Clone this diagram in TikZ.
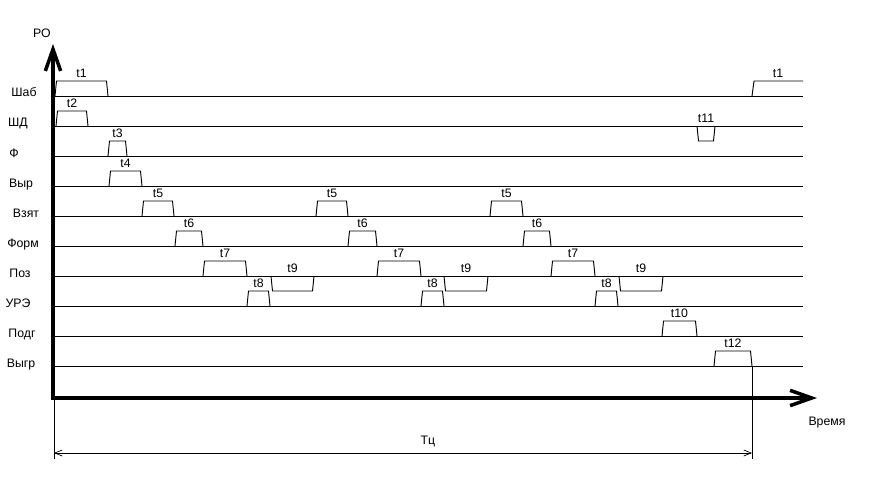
\documentclass[tikz,border=0pt]{standalone}
\usepackage{fontspec}
\setmainfont{Liberation Sans}
\usepackage{xcolor}
\usepackage{tikz}
\usetikzlibrary{
  arrows.meta,
  positioning,
  calc
}
\tikzset{
  sigline/.style={line width=0.8pt, black},
  pulse/.style={line width=0.8pt, black, line join=miter},
  axisline/.style={
    line width=3pt, line join=miter,
    {Straight Barb[length=6.5mm, width=4.6mm]}-{Straight Barb[length=6.5mm, width=4.6mm]}
  },
  extline/.style={line width=0.6pt, black},
  dimline/.style={line width=0.6pt, {Straight Barb[length=2.2mm, width=1.8mm]}-{Straight Barb[length=2.2mm, width=1.8mm]}},
  rowlabel/.style={font=\fontsize{10.5}{12}\selectfont, anchor=base, inner sep=0pt},
  tlabel/.style={font=\fontsize{10.5}{12}\selectfont, anchor=base, inner sep=0pt},
  axlabel/.style={font=\fontsize{10.5}{12}\selectfont, inner sep=0pt}
}

\begin{document}
\begin{tikzpicture}[x=0.03cm, y=-0.03cm]
  \useasboundingbox (0,0) rectangle (872,482);
  % axes
  \coordinate (o) at (53,398);
  \coordinate (ytip) at (53,44);
  \coordinate (xtip) at (817,398);
  \node[axlabel] (ro) at (42,33) {РО};
  \node[axlabel] (time) at (827,423) {Время};
  % signal rows
  \foreach \lab/\lx [count=\r] in {Шаб/24, ШД/18, Ф/14, Выр/21, Взят/26, Форм/23, Поз/20, УРЭ/18, Подг/22, Выгр/21}{
    \pgfmathsetmacro{\y}{66+30*\r}
    \coordinate (row\r) at (53,\y);
    \coordinate (end\r) at (803,\y);
    \draw[sigline] (row\r) -- (end\r);
    \node[rowlabel] (lab\r) at (\lx,\y+1) {\lab};
  }
  % pulses: start/end/row/label/direction
  \foreach \a/\b/\r/\t/\d in {55/108/1/t1/1, 56/88/2/t2/1, 108/127/3/t3/1, 109/142/4/t4/1,
      142/174/5/t5/1, 316/348/5/t5/1, 490/523/5/t5/1,
      175/203/6/t6/1, 348/377/6/t6/1, 523/551/6/t6/1,
      203/247/7/t7/1, 377/421/7/t7/1, 551/595/7/t7/1,
      271/314/7/t9/-1, 444/488/7/t9/-1, 619/663/7/t9/-1,
      247/270/8/t8/1, 421/444/8/t8/1, 595/618/8/t8/1,
      662/697/9/t10/1, 697/715/2/t11/-1, 714/752/10/t12/1}{
    \pgfmathsetmacro{\y}{66+30*\r}
    \pgfmathsetmacro{\top}{\y-15*\d}
    \pgfmathsetmacro{\ly}{min(\y,\top)-3.5}
    \draw[pulse] (\a,\y) -- (\a+1.5,\top) -- (\b-1.5,\top) -- (\b,\y);
    \node[tlabel] at ({(\a+\b)/2},\ly) {\t};
  }
  % next cycle
  \draw[pulse] (752,96) -- (754,81) -- (803,81);
  \node[tlabel] (t1next) at (778,77.5) {t1};
  \draw[axisline] (ytip) -- (o) -- (xtip);
  % cycle time
  \coordinate (tcL) at (54,453);
  \coordinate (tcR) at (752,453);
  \draw[extline] (54,398) -- (54,459);
  \draw[extline] (752,366) -- (752,459);
  \draw[dimline] (tcL) -- (tcR);
  \node[axlabel] (tc) at (428,441) {Tц};
\end{tikzpicture}
\end{document}
